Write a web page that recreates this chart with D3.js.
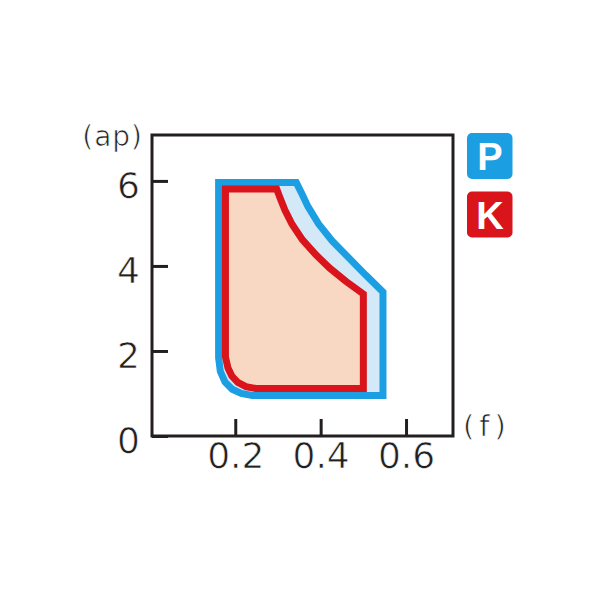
<!DOCTYPE html>
<meta charset="utf-8">
<style>
body { margin: 0; background: #fff; }
text { font-family: "DejaVu Sans", sans-serif; }
.thin { stroke: #fff; stroke-width: 0.7px; }
.axis text { font-size: 36px; fill: #231f20; stroke: #fff; stroke-width: 0.7px; }
.axis line { stroke: #231f20; stroke-width: 3; }
.axis path { display: none; }
</style>
<svg width="600" height="600"></svg>
<script src="https://cdnjs.cloudflare.com/ajax/libs/d3/7.8.5/d3.min.js"></script>
<script>

// tick values
var xTicks = [0.2, 0.4, 0.6];
var yTicks = [0, 2, 4, 6];

// P region boundary (f, ap)
var pF  = [0.161, 0.343, 0.355, 0.370, 0.395, 0.427, 0.466, 0.505, 0.546, 0.546, 0.240, 0.214, 0.193, 0.176, 0.165, 0.161];
var pAp = [5.96,  5.96,  5.72,  5.40,  4.99,  4.59,  4.19,  3.79,  3.39,  0.953, 0.953, 1.00,  1.10,  1.27,  1.52,  1.84];

// K region boundary (f, ap)
var kF  = [0.177, 0.297, 0.305, 0.316, 0.333, 0.357, 0.389, 0.421, 0.459, 0.500, 0.500, 0.248, 0.225, 0.206, 0.192, 0.183, 0.177];
var kAp = [5.81,  5.81,  5.60,  5.32,  4.98,  4.62,  4.26,  3.95,  3.64,  3.34,  1.12,  1.12,  1.16,  1.26,  1.41,  1.60,  1.86];

var legendKeys = ["P", "K"];
var legendColors = ["#1b9fe2", "#d9141b"];

var svg = d3.select("svg");

var x = d3.scaleLinear().domain([0.005, 0.71]).range([152, 453]);
var y = d3.scaleLinear().domain([0, 7.08]).range([436, 135]);

var line = d3.line()
    .x(function(d) { return x(d[0]); })
    .y(function(d) { return y(d[1]); })
    .curve(d3.curveLinearClosed);

var pPts = d3.zip(pF, pAp),
    kPts = d3.zip(kF, kAp);

svg.append("path")
    .attr("d", line(pPts))
    .attr("fill", "#d3e9f8")
    .attr("stroke", "#1b9fe2")
    .attr("stroke-width", 7)
    .attr("stroke-linejoin", "miter");

svg.append("path")
    .attr("d", line(kPts))
    .attr("fill", "#f9d8c3")
    .attr("stroke", "#d9141b")
    .attr("stroke-width", 7)
    .attr("stroke-linejoin", "miter");

// frame
svg.append("rect")
    .attr("x", x.range()[0])
    .attr("y", y.range()[1])
    .attr("width", x.range()[1] - x.range()[0])
    .attr("height", y.range()[0] - y.range()[1])
    .attr("fill", "none")
    .attr("stroke", "#231f20")
    .attr("stroke-width", 3);

svg.append("g")
    .attr("class", "axis")
    .attr("transform", "translate(" + x.range()[0] + ",0)")
    .call(d3.axisLeft(y).tickValues(yTicks).tickSize(-16).tickPadding(12).tickFormat(d3.format("d")))
  .selectAll("text")
    .attr("dy", "0.45em");

svg.append("g")
    .attr("class", "axis")
    .attr("transform", "translate(0," + y.range()[0] + ")")
    .call(d3.axisBottom(x).tickValues(xTicks).tickSize(-17).tickPadding(6).tickFormat(d3.format(".1f")));

svg.append("text")
    .attr("class", "thin")
    .attr("x", 143)
    .attr("y", 146)
    .attr("text-anchor", "end")
    .style("font-size", "28px")
    .style("letter-spacing", "1px")
    .attr("fill", "#231f20")
    .text("(ap)");

svg.append("text")
    .attr("class", "thin")
    .attr("x", 463)
    .attr("y", 436)
    .style("font-size", "29px")
    .style("letter-spacing", "5px")
    .attr("fill", "#231f20")
    .text("(f)");

var legend = svg.append("g").selectAll("g")
    .data(legendKeys)
  .enter().append("g")
    .attr("transform", function(d, i) { return "translate(467," + (133 + i * 58.5) + ")"; });

legend.append("rect")
    .attr("width", 45.5)
    .attr("height", 46)
    .attr("rx", 5)
    .attr("fill", function(d, i) { return legendColors[i]; });

legend.append("text")
    .attr("x", 23)
    .attr("y", 37)
    .attr("text-anchor", "middle")
    .style("font-family", "'Liberation Sans', Arial, sans-serif")
    .style("font-size", "38px")
    .style("font-weight", "bold")
    .attr("fill", "#fff")
    .text(function(d) { return d; });

</script>
